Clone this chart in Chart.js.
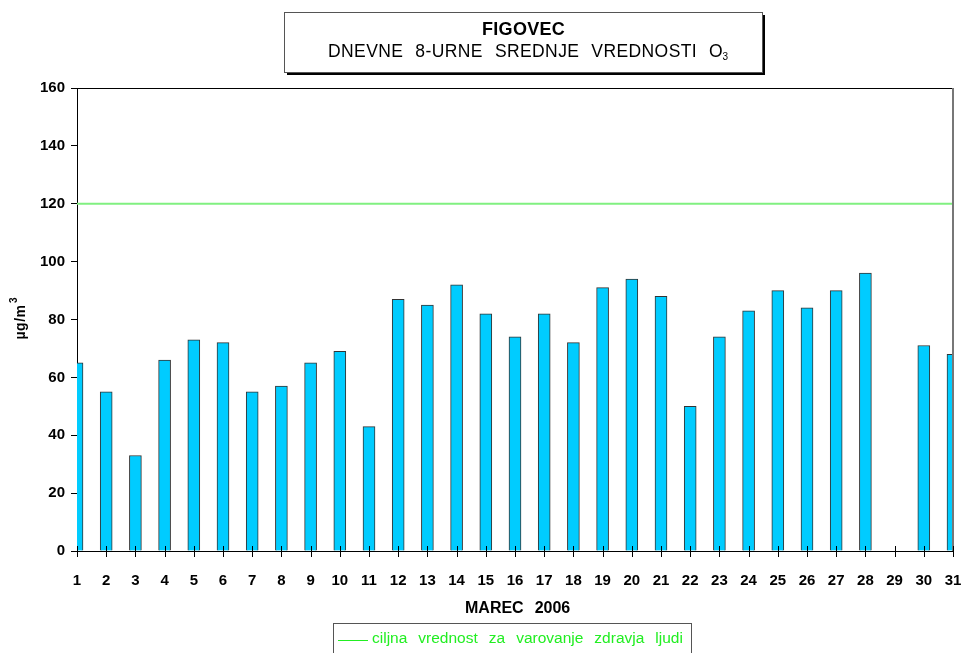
<!DOCTYPE html>
<html>
<head>
<meta charset="utf-8">
<script src="https://cdn.jsdelivr.net/npm/chart.js@4/dist/chart.umd.min.js"></script>
<style>
  body { margin: 0; background: #fff; }
  #wrap { width: 964px; height: 653px; }
</style>
</head>
<body>
<div id="wrap"><canvas id="myChart" width="964" height="653"></canvas></div>
<script>
// dnevi v marcu in izmerjene vrednosti
const days = [1,2,3,4,5,6,7,8,9,10,11,12,13,14,15,16,17,18,19,20,21,22,23,24,25,26,27,28,29,30,31];
const values = [65,55,33,66,73,72,55,57,65,69,43,87,85,92,82,74,82,72,91,94,88,50,74,83,90,84,90,96,null,71,68];
// ciljna vrednost
const targetDays = [1, 31];
const targetValues = [120, 120];
const yTicks = [0,20,40,60,80,100,120,140,160];

const FONT = "'Liberation Sans', Arial, sans-serif";

function drawWords(ctx, words, x, y, gap, center) {
    let total = 0;
    words.forEach(w => total += ctx.measureText(w).width);
    total += gap * (words.length - 1);
    if (center) x = x - total / 2;
    ctx.textAlign = 'left';
    words.forEach(w => {
        ctx.fillText(w, x, y);
        x += ctx.measureText(w).width + gap;
    });
    return x;
}

const decor = {
    id: 'decor',
    afterDraw(chart) {
        const ctx = chart.ctx;
        const a = chart.chartArea;
        const xs = chart.scales.x;
        ctx.save();
        // okvir - zgoraj in desno
        ctx.strokeStyle = '#000';
        ctx.lineWidth = 1;
        ctx.beginPath();
        ctx.moveTo(a.left, a.top + 0.5);
        ctx.lineTo(a.right, a.top + 0.5);
        ctx.stroke();
        ctx.strokeStyle = '#777';
        ctx.lineWidth = 2;
        ctx.beginPath();
        ctx.moveTo(a.right, a.top);
        ctx.lineTo(a.right, a.bottom);
        ctx.stroke();

        // x tick crtice cez os
        ctx.strokeStyle = '#000';
        ctx.lineWidth = 1;
        days.forEach(d => {
            const px = Math.round(xs.getPixelForValue(d)) + 0.5;
            ctx.beginPath();
            ctx.moveTo(px, a.bottom - 5);
            ctx.lineTo(px, a.bottom + 6);
            ctx.stroke();
        });

        // naslov v okvirju
        ctx.fillStyle = '#000';
        ctx.fillRect(287, 15, 478, 60);
        ctx.fillStyle = '#fff';
        ctx.fillRect(284, 12, 478, 60);
        ctx.strokeStyle = '#555';
        ctx.lineWidth = 1;
        ctx.strokeRect(284.5, 12.5, 478, 60);
        ctx.fillStyle = '#000';
        ctx.textBaseline = 'middle';
        ctx.font = "bold 18px " + FONT;
        ctx.letterSpacing = '0.3px';
        drawWords(ctx, ['FIGOVEC'], 482, 30, 0, false);
        ctx.letterSpacing = '0.4px';
        ctx.font = "17.5px " + FONT;
        const endX = drawWords(ctx, ['DNEVNE', '8-URNE', 'SREDNJE', 'VREDNOSTI', 'O'], 328, 52, 12, false);
        ctx.letterSpacing = '0px';
        ctx.font = "10px " + FONT;
        ctx.fillText('3', endX - 12.5, 57);

        // naslov x osi
        ctx.font = "bold 16px " + FONT;
        drawWords(ctx, ['MAREC', '2006'], 465, 609, 11, false);

        // naslov y osi
        ctx.save();
        ctx.translate(21, 319);
        ctx.rotate(-Math.PI / 2);
        ctx.letterSpacing = '0.5px';
        ctx.font = "bold 14px " + FONT;
        ctx.textAlign = 'center';
        ctx.fillText('µg/m', -3, 0);
        ctx.font = "bold 10px " + FONT;
        ctx.fillText('3', 19, -7);
        ctx.restore();

        // legenda
        ctx.fillStyle = '#fff';
        ctx.fillRect(333, 623, 358, 35);
        ctx.strokeStyle = '#555';
        ctx.lineWidth = 1;
        ctx.strokeRect(333.5, 623.5, 358, 35);
        ctx.strokeStyle = '#22ee22';
        ctx.beginPath();
        ctx.moveTo(338, 640.5);
        ctx.lineTo(368, 640.5);
        ctx.stroke();
        ctx.fillStyle = '#22ee22';
        ctx.font = "15.5px " + FONT;
        ctx.letterSpacing = '0px';
        ctx.textBaseline = 'middle';
        drawWords(ctx, ['ciljna', 'vrednost', 'za', 'varovanje', 'zdravja', 'ljudi'], 372, 639, 11, false);
        ctx.restore();
    }
};

const ctx = document.getElementById('myChart').getContext('2d');

let myChart = new Chart(ctx, {
    type: 'bar',
    data: {
        datasets: [{
            type: 'bar',
            label: 'O3',
            data: days.map((d, i) => ({x: d, y: values[i]})),
            backgroundColor: '#00CCFF',
            borderColor: '#333',
            borderWidth: 1,
            barThickness: 12,
            order: 2
        }, {
            type: 'line',
            label: 'ciljna vrednost za varovanje zdravja ljudi',
            data: targetDays.map((d, i) => ({x: d, y: targetValues[i]})),
            borderColor: '#80F080',
            borderWidth: 2,
            pointRadius: 0,
            fill: false,
            order: 1
        }]
    },
    options: {
        responsive: false,
        animation: false,
        layout: { padding: { left: 0, right: 11, top: 88, bottom: 0 } },
        plugins: {
            legend: { display: false },
            title: { display: false },
            tooltip: { enabled: false }
        },
        scales: {
            x: {
                type: 'linear',
                min: 1,
                max: 31,
                offset: false,
                afterFit: s => { s.height = 102; s.paddingLeft = 0; s.paddingRight = 0; },
                ticks: {
                    stepSize: 1,
                    autoSkip: false,
                    maxRotation: 0,
                    padding: 13,
                    color: '#000',
                    font: { family: FONT, size: 15, weight: 'bold' }
                },
                grid: { display: false },
                border: { display: true, color: '#000', width: 1 }
            },
            y: {
                min: 0,
                max: 160,
                afterFit: s => { s.width = 77; s.paddingTop = 0; s.paddingBottom = 0; },
                afterBuildTicks: s => { s.ticks = yTicks.map(v => ({value: v})); },
                ticks: {
                    padding: 6,
                    color: '#000',
                    font: { family: FONT, size: 15, weight: 'bold' }
                },
                grid: { drawOnChartArea: false, tickLength: 6, color: '#000' },
                border: { display: true, color: '#000', width: 1 }
            }
        }
    },
    plugins: [decor]
});
</script>
</body>
</html>
